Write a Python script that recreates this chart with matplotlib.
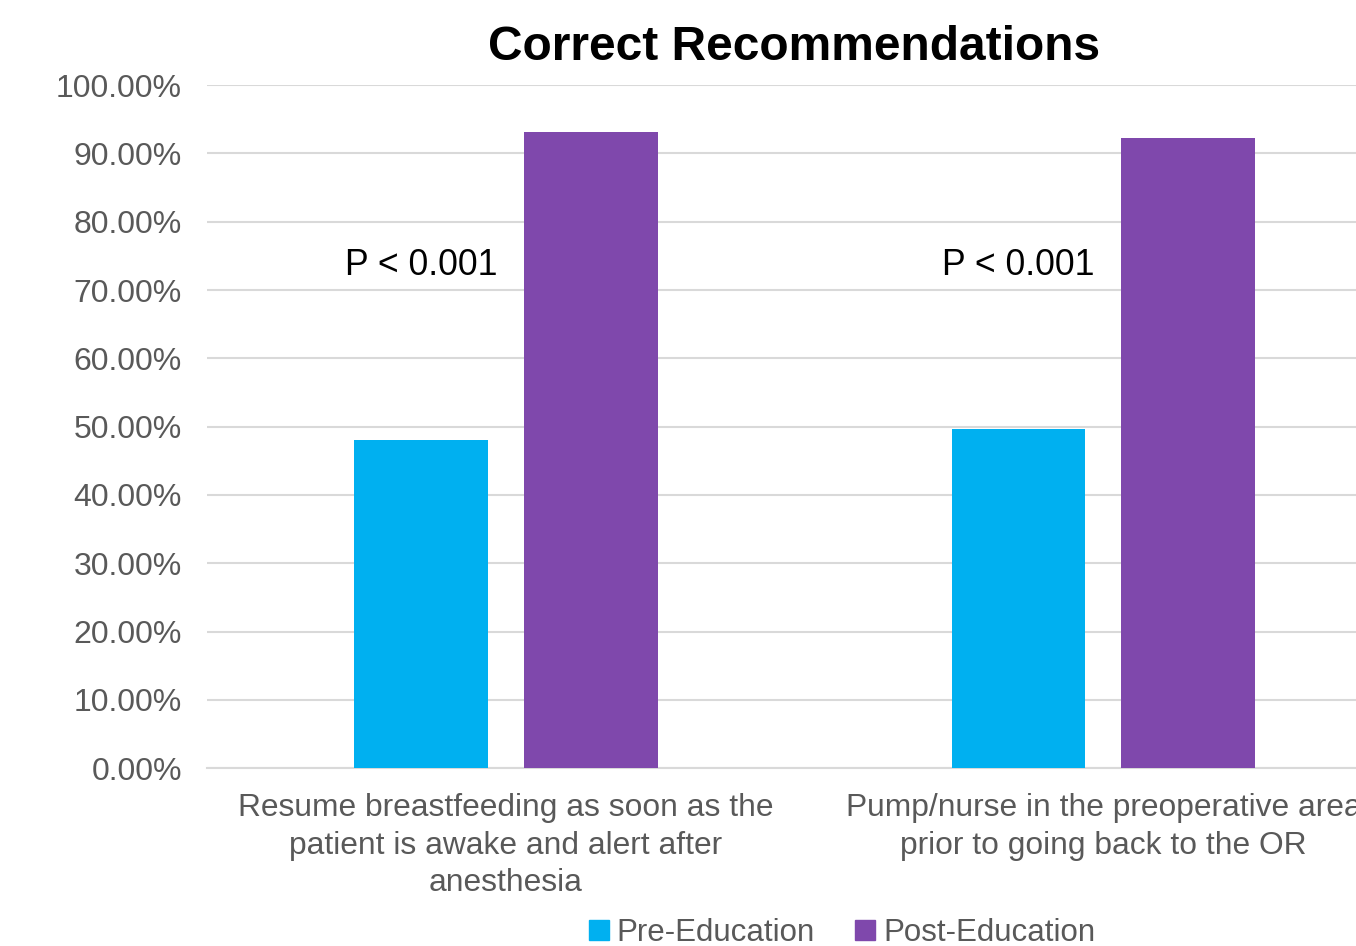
import numpy as np
import matplotlib.pyplot as plt
from matplotlib.ticker import FuncFormatter
from matplotlib.patches import Patch

plt.rcParams['font.family'] = ['Liberation Sans', 'DejaVu Sans']

# -----------------------------
# Data
# -----------------------------
categories = [
    "Resume breastfeeding as soon as the\npatient is awake and alert after\nanesthesia",
    "Pump/nurse in the preoperative area\nprior to going back to the OR",
]
series_names = ["Pre-Education", "Post-Education"]
pre_values = [48.1, 49.6]
post_values = [93.2, 92.3]
p_labels = ["P < 0.001", "P < 0.001"]

colors = ["#00B0F0", "#7F48AC"]
grey = "#595959"

# -----------------------------
# Figure
# -----------------------------
fig = plt.figure(figsize=(13.56, 9.46), dpi=100)
ax = fig.add_axes([0.1527, 0.188, 0.8813, 0.722])

x = np.arange(len(categories))
w = 0.224
off = 0.142
ax.bar(x - off, pre_values, w, color=colors[0], zorder=3)
ax.bar(x + off, post_values, w, color=colors[1], zorder=3)

for xi, lab in zip(x, p_labels):
    ax.text(xi - off, 73.6, lab, ha="center", va="center", fontsize=25.7, color="black")

ax.set_xlim(-0.5, 1.5)
ax.set_ylim(0, 100)
ax.set_yticks(np.arange(0, 101, 10))
ax.yaxis.set_major_formatter(FuncFormatter(lambda v, _: f"{v:.2f}%"))
ax.set_xticks(x)
ax.set_xticklabels(categories, fontsize=22.9, color=grey, linespacing=1.32)
ax.tick_params(axis="y", labelsize=23, labelcolor=grey, length=0, pad=18)
ax.tick_params(axis="x", length=0, pad=18)

ax.grid(axis="y", color="#D9D9D9", linewidth=1.5, zorder=0)
for s in ["top", "right", "left"]:
    ax.spines[s].set_visible(False)
ax.spines["bottom"].set_color("#D9D9D9")
ax.spines["bottom"].set_linewidth(1.5)

fig.text(794 / 1356, 1 - 47 / 946, "Correct Recommendations",
         ha="center", va="center", fontsize=34.5, fontweight="bold")

handles = [Patch(color=c) for c in colors]
fig.legend(handles, series_names, loc="center", bbox_to_anchor=(842 / 1356, 1 - 933 / 946),
           ncol=2, frameon=False, fontsize=22.5, labelcolor=grey,
           handlelength=0.64, handleheight=0.64, handletextpad=0.25, columnspacing=1.3,
           borderpad=0, borderaxespad=0)

fig.savefig("out.png", dpi=100)
